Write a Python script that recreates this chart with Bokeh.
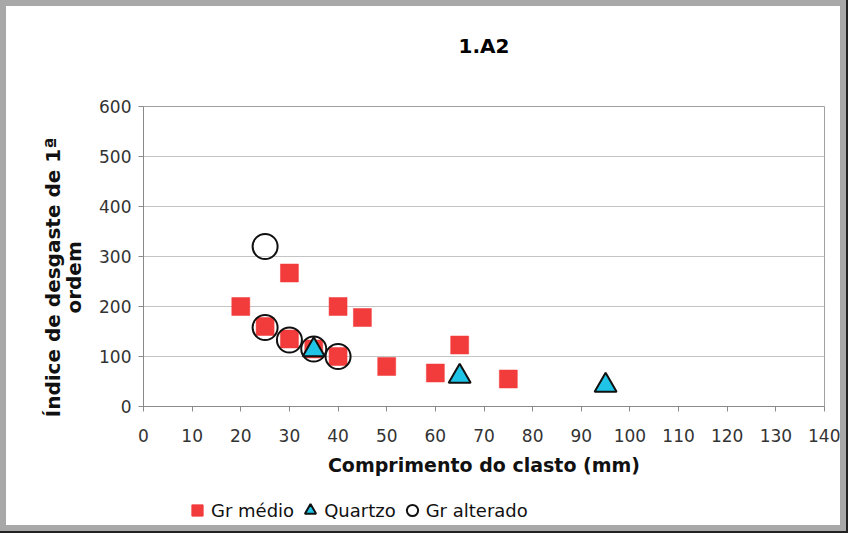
from bokeh.plotting import figure
from bokeh.models import Range1d, Legend, LegendItem, FixedTicker, Column
from bokeh.embed import file_html
from bokeh.resources import INLINE

gr_medio_x = [20, 25, 30, 30, 35, 40, 40, 45, 50, 60, 65, 75]
gr_medio_y = [200, 160, 267, 135, 115, 200, 100, 178, 80, 67, 123, 55]
quartzo_x = [35, 65, 95]
quartzo_y = [113, 60, 42]
alterado_x = [25, 25, 30, 35, 40]
alterado_y = [320, 158, 133, 115, 100]
x_ticks = list(range(0, 141, 10))
y_ticks = list(range(0, 601, 100))
series_labels = ["Gr médio", "Quartzo", "Gr alterado"]

FONT = "DejaVu Sans"
RED = "#f23b3b"
CYAN = "#20c4e6"
PAD = "\u00a0" * 6

p = figure(width=834, height=472, output_backend="svg", toolbar_location=None,
           x_range=Range1d(0, 140), y_range=Range1d(0, 600),
           min_border_left=137, min_border_right=16, min_border_top=100, min_border_bottom=72)
p.title.text = "1.A2\n"
p.title.align = "center"
p.title.text_font = FONT
p.title.text_font_size = "20px"
p.title.text_font_style = "bold"
p.title.text_color = "#000000"
p.title.offset = 0
p.title.standoff = 50
p.outline_line_color = "#a0a0a0"

p.xaxis.ticker = FixedTicker(ticks=x_ticks)
p.yaxis.ticker = FixedTicker(ticks=y_ticks)
for ax in (p.xaxis, p.yaxis):
    ax.axis_line_color = "#8a8a8a"
    ax.major_tick_line_color = "#8a8a8a"
    ax.minor_tick_line_color = None
    ax.major_tick_in = 0
    ax.major_tick_out = 5
    ax.major_label_text_font = FONT
    ax.major_label_text_font_size = "17px"
    ax.major_label_text_color = "#333333"
    ax.axis_label_text_font = FONT
    ax.axis_label_text_font_style = "bold"
    ax.axis_label_text_color = "#111111"
p.xaxis.axis_label = "Comprimento do clasto (mm)"
p.xaxis.axis_label_text_font_size = "19px"
p.yaxis.axis_label = "Índice de desgaste de 1ª" + PAD + "\nordem" + PAD
p.yaxis.axis_label_text_font_size = "20px"
p.yaxis.axis_label_text_line_height = 0.88
p.xaxis.major_label_standoff = 17
p.xaxis.axis_label_standoff = 9
p.yaxis.major_label_standoff = 7
p.yaxis.axis_label_standoff = 10
p.xgrid.grid_line_color = None
p.ygrid.grid_line_color = "#c4c4c4"
p.ygrid.grid_line_width = 1.2

p.scatter(gr_medio_x, gr_medio_y, marker="square", size=18,
          fill_color=RED, line_color=RED, line_width=0.5)
p.scatter(alterado_x, alterado_y, marker="circle", size=25,
          fill_color=None, line_color="#111111", line_width=2)
p.scatter(quartzo_x, quartzo_y, marker="triangle", size=22,
          fill_color=CYAN, line_color="#111111", line_width=2)

# separate strip for the legend; its keys reuse the series' first points,
# which fall outside this strip's ranges so only the legend keys show
lf = figure(width=834, height=47, output_backend="svg", toolbar_location=None,
            x_axis_type=None, y_axis_type=None, min_border=0,
            x_range=Range1d(0, 1), y_range=Range1d(0, 1))
lf.outline_line_color = None
lf.grid.grid_line_color = None
lf.border_fill_color = "white"
lf.background_fill_color = "white"
k1 = lf.scatter(gr_medio_x[:1], gr_medio_y[:1], marker="square",
                fill_color=RED, line_color=RED)
k2 = lf.scatter(quartzo_x[:1], quartzo_y[:1], marker="triangle",
                fill_color=CYAN, line_color="#111111", line_width=2)
k3 = lf.scatter(alterado_x[:1], alterado_y[:1], marker="circle",
                fill_color=None, line_color="#111111", line_width=2)
legend = Legend(items=[LegendItem(label=series_labels[0], renderers=[k1]),
                       LegendItem(label=series_labels[1], renderers=[k2]),
                       LegendItem(label=series_labels[2], renderers=[k3])],
                orientation="horizontal", location=(40, 1),
                label_text_font=FONT, label_text_font_size="18px",
                label_text_color="#111111",
                border_line_color=None, background_fill_alpha=0,
                glyph_width=28, glyph_height=28, spacing=2, label_standoff=0,
                padding=0, margin=0)
lf.add_layout(legend, "center")

layout = Column(children=[p, lf], spacing=0,
                styles={"border": "6px solid #a8a8a8",
                        "outline": "2px solid #222222",
                        "background-color": "white"})

open("out.html", "w").write(file_html(layout, INLINE))
